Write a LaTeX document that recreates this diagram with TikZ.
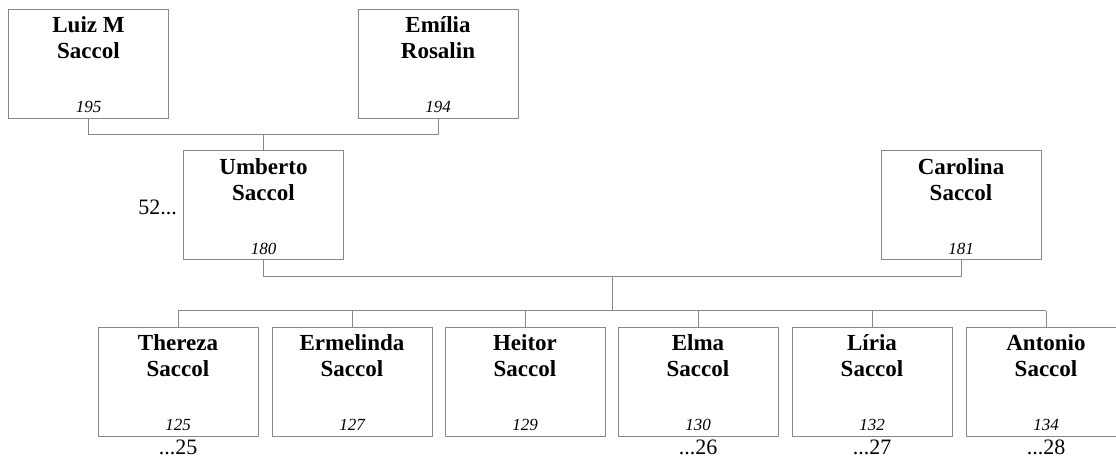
\documentclass[tikz,border=0pt]{standalone}
\usepackage{fontspec}
\setmainfont{Liberation Serif}
\usetikzlibrary{calc}
\definecolor{boxgray}{RGB}{136,136,136}
\begin{document}
\begin{tikzpicture}[x=1pt,y=-1pt,
  person/.style={draw=boxgray,line width=1pt,minimum width=160pt,minimum height=109pt,inner sep=0pt},
  pname/.style={anchor=north,align=center,inner sep=0pt,yshift=-7.5pt,
    font=\bfseries\fontsize{23}{26}\selectfont,execute at begin node={\strut}},
  pnum/.style={anchor=base,inner sep=0pt,font=\itshape\fontsize{17}{20}\selectfont},
  pdots/.style={inner sep=0pt,font=\fontsize{22}{24}\selectfont},
  link/.style={draw=boxgray,line width=1pt}]
\useasboundingbox (0,0) rectangle (1116,462);
% grandparents
\node[person] (luiz) at (88.5,64) {};
\node[pname] (luiz-n) at (luiz.north) {Luiz M\\Saccol};
\node[pnum] (luiz-i) at ([yshift=6pt]luiz.south) {195};
\node[person] (emilia) at (438,64) {};
\node[pname] (emilia-n) at (emilia.north) {Emília\\Rosalin};
\node[pnum] (emilia-i) at ([yshift=6pt]emilia.south) {194};
% parents
\node[person] (umberto) at (263.5,205.5) {};
\node[pname] (umberto-n) at (umberto.north) {Umberto\\Saccol};
\node[pnum] (umberto-i) at ([yshift=6pt]umberto.south) {180};
\node[pdots,anchor=base east] (umberto-d) at ([xshift=-6pt,yshift=-9.5pt]umberto.west) {52...};
\node[person] (carolina) at (961,205.5) {};
\node[pname] (carolina-n) at (carolina.north) {Carolina\\Saccol};
\node[pnum] (carolina-i) at ([yshift=6pt]carolina.south) {181};
% children
\foreach \k/\x/\first/\num in {thereza/178/Thereza/125, ermelinda/352/Ermelinda/127,
    heitor/525/Heitor/129, elma/698/Elma/130, liria/872/Líria/132, antonio/1046/Antonio/134} {
  \node[person] (\k) at (\x,381.5) {};
  \node[pname] (\k-n) at (\k.north) {\first\\Saccol};
  \node[pnum] (\k-i) at ([yshift=6pt]\k.south) {\num};
}
\foreach \k/\d in {thereza/25, elma/26, liria/27, antonio/28}
  \node[pdots,anchor=base] (\k-d) at ([yshift=-18pt]\k.south) {...\d};
% connectors
\path (umberto.north) ++(0,-16) coordinate (upbar);
\draw[link] (luiz.south) |- (upbar) -| (emilia.south);
\draw[link] (upbar) -- (umberto.north);
\path (umberto.south) ++(0,16) coordinate (ubar);
\draw[link] (umberto.south) -- (ubar) -| (carolina.south);
\coordinate (famtop) at ($(ubar)!0.5!(ubar -| carolina.south)$);
\path (heitor.north) ++(0,-16) coordinate (kidrow);
\coordinate (kidbar) at (famtop |- kidrow);
\draw[link] (famtop) -- (kidbar);
\draw[link] (thereza.north |- kidbar) -- (antonio.north |- kidbar);
\foreach \k in {thereza,ermelinda,heitor,elma,liria,antonio}
  \draw[link] (\k.north) -- (\k.north |- kidbar);
\end{tikzpicture}
\end{document}
